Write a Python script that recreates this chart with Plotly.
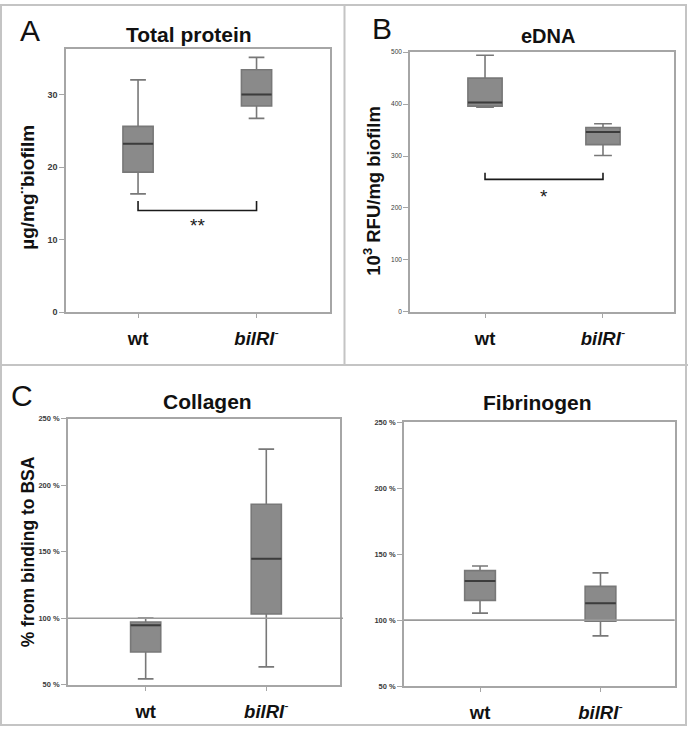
import plotly.graph_objects as go

# ---------------- data ----------------
categories = ["wt", "bilRI-"]
cat_labels = ["<b>wt</b>", "<b><i>bilRI</i></b><sup>-</sup>"]

# Panel A: Total protein (µg/mg biofilm)
prot_low = [16.3, 26.7]
prot_q1 = [19.3, 28.4]
prot_med = [23.2, 30.0]
prot_q3 = [25.6, 33.4]
prot_high = [32.0, 35.1]

# Panel B: eDNA (10^3 RFU/mg biofilm)
edna_low = [394, 301]
edna_q1 = [396, 322]
edna_med = [403, 346]
edna_q3 = [450, 355]
edna_high = [494, 362]

# Panel C: Collagen (% from binding to BSA)
col_low = [54.5, 63.5]
col_q1 = [74.7, 103.2]
col_med = [94.7, 144.8]
col_q3 = [97.2, 185.8]
col_high = [100.2, 227.2]

# Panel C: Fibrinogen (% from binding to BSA)
fib_low = [105.3, 88.1]
fib_q1 = [115.0, 99.3]
fib_med = [129.7, 112.8]
fib_q3 = [137.5, 125.6]
fib_high = [141.0, 135.8]

# tick values / labels
ticks_A = [0, 10, 20, 30]
ticks_B = [0, 100, 200, 300, 400, 500]
ticks_C = [50, 100, 150, 200, 250]
ticklabels_C = ["50 %", "100 %", "150 %", "200 %", "250 %"]

# significance brackets: (bar level, tip level, star level, label)
sig_A = (14.0, 15.3, 11.9, "**")
sig_B = (255, 268, 222, "*")

W, H = 688, 731
FONT = "Liberation Sans, Arial, sans-serif"

fig = go.Figure()

panels = [
    ("", (prot_low, prot_q1, prot_med, prot_q3, prot_high), (66, 330, 46, 312),
     [0, 36.2], ticks_A, ["<b>%d</b>" % v for v in ticks_A], 9, 0.255, [-0.608, 1.62]),
    ("2", (edna_low, edna_q1, edna_med, edna_q3, edna_high), (410, 674, 48.7, 311.7),
     [0, 500], ticks_B, [str(v) for v in ticks_B], 6.5, 0.29, [-0.636, 1.602]),
    ("3", (col_low, col_q1, col_med, col_q3, col_high), (68, 339.5, 420, 689.3),
     [50, 250], ticks_C, ["<b>%s</b>" % s for s in ticklabels_C], 7.5, 0.25, [-0.644, 1.607]),
    ("4", (fib_low, fib_q1, fib_med, fib_q3, fib_high), (404, 674.7, 423.3, 690.7),
     [50, 250], ticks_C, ["<b>%s</b>" % s for s in ticklabels_C], 7.5, 0.255, [-0.631, 1.616]),
]

BOX_FILL = "#8a8a8a"
BOX_LINE = "#787878"
MED_LINE = "#3c3c3c"
AX_LINE = "#a6a6a6"

for suf, (lo, q1, med, q3, hi), (px0, px1, py0, py1), yr, tv, tt, tfs, bw, xr in panels:
    xa = "x" + suf
    ya = "y" + suf
    for i in range(2):
        fig.add_trace(go.Box(
            x=[i], q1=[q1[i]], median=[med[i]], q3=[q3[i]],
            lowerfence=[lo[i]], upperfence=[hi[i]],
            width=bw, whiskerwidth=0.52,
            fillcolor=BOX_FILL, line=dict(color=BOX_LINE, width=1.6),
            boxpoints=False, xaxis=xa, yaxis=ya, showlegend=False,
            hoverinfo="skip",
        ))
        fig.add_trace(go.Scatter(
            x=[i - bw / 2, i + bw / 2], y=[med[i], med[i]], mode="lines",
            line=dict(color=MED_LINE, width=2), xaxis=xa, yaxis=ya,
            showlegend=False, hoverinfo="skip",
        ))
    xkey = "xaxis" + suf
    ykey = "yaxis" + suf
    fig.layout[xkey] = dict(
        domain=[px0 / W, px1 / W], range=xr, anchor=ya,
        tickvals=[0, 1], ticktext=cat_labels, ticks="outside", ticklen=4,
        tickcolor=AX_LINE, tickwidth=1.2,
        tickfont=dict(family=FONT, size=18.5, color="#111"),
        ticklabelstandoff=5,
        showline=True, linecolor=AX_LINE, linewidth=1.6, mirror=True,
        showgrid=False, zeroline=False, fixedrange=True,
    )
    fig.layout[ykey] = dict(
        domain=[1 - py1 / H, 1 - py0 / H], range=yr, anchor=xa,
        tickvals=tv, ticktext=tt, ticks="outside", ticklen=5,
        tickcolor=AX_LINE, tickwidth=1.2,
        tickfont=dict(family=FONT, size=tfs, color="#3a3a3a"),
        showline=True, linecolor=AX_LINE, linewidth=1.6, mirror=True,
        showgrid=False, zeroline=False, fixedrange=True,
    )

# significance brackets
for (bar, tip, star, lab), xa, ya in [(sig_A, "x", "y"), (sig_B, "x2", "y2")]:
    fig.add_trace(go.Scatter(
        x=[0, 0, 1, 1], y=[tip, bar, bar, tip], mode="lines",
        line=dict(color="#1a1a1a", width=1.6), xaxis=xa, yaxis=ya,
        showlegend=False, hoverinfo="skip",
    ))
    fig.add_annotation(x=0.5, y=star, xref=xa, yref=ya, text=lab, showarrow=False,
                       xanchor="center", yanchor="middle",
                       font=dict(family=FONT, size=19, color="#1a1a1a"))

# 100 % reference lines in panel C
for xa, ya, x1 in [("x3", "y3", 1.013), ("x4", "y4", 1.0)]:
    fig.add_shape(type="line", xref=xa + " domain", yref=ya, x0=0, x1=x1, y0=100, y1=100,
                  line=dict(color="#9a9a9a", width=1.6))

def pann(text, px, py, size, angle=0):
    fig.add_annotation(x=px / W, y=1 - py / H, xref="paper", yref="paper", text=text,
                       textangle=angle, showarrow=False, xanchor="center", yanchor="middle",
                       font=dict(family=FONT, size=size, color="#111"))

# titles
for t, px, py, s in [("Total protein", 189, 31, 21), ("eDNA", 548, 32, 20),
                     ("Collagen", 207, 402, 21), ("Fibrinogen", 537, 403, 21)]:
    pann("<b>" + t + "</b>", px, py, s)

# panel letters
for t, px, py in [("A", 30, 27), ("B", 382, 25), ("C", 22, 396)]:
    pann(t, px, py, 30)

# y-axis titles
for t, px, py, s in [("µg/mg¨biofilm", 28, 186, 19), ("10<sup>3</sup> RFU/mg biofilm", 372, 189, 18.5),
                     ("% from binding to BSA", 28, 555, 17.5)]:
    pann("<b>" + t + "</b>", px, py, s, -90)

# panel borders
BORDER = "#c4c4c4"
fig.add_shape(type="rect", xref="paper", yref="paper", x0=1 / W, x1=686 / W, y0=1 - 730 / H, y1=1 - 1 / H,
              line=dict(color=BORDER, width=2))
fig.add_shape(type="line", xref="paper", yref="paper", x0=344.5 / W, x1=344.5 / W, y0=1 - 365.5 / H, y1=1,
              line=dict(color=BORDER, width=2))
fig.add_shape(type="line", xref="paper", yref="paper", x0=0, x1=1, y0=1 - 365.5 / H, y1=1 - 365.5 / H,
              line=dict(color=BORDER, width=2))

fig.update_layout(
    width=W, height=H, margin=dict(l=0, r=0, t=0, b=0),
    paper_bgcolor="white", plot_bgcolor="white", showlegend=False,
    font=dict(family=FONT),
)

fig.write_html("out.html", config={"displayModeBar": False},
               post_script="document.body.style.margin='0';document.body.style.overflow='hidden';")
